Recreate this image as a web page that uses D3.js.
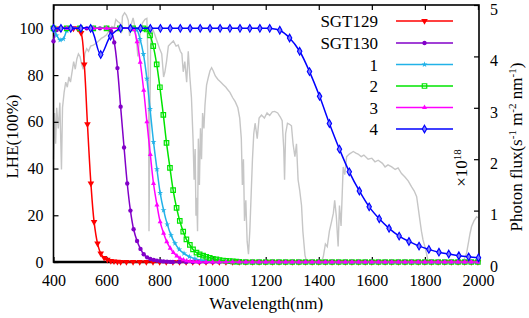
<!DOCTYPE html>
<html>
<head>
<meta charset="utf-8">
<script src="https://cdn.jsdelivr.net/npm/d3@7"></script>
<style>
  body { margin: 0; background: #fff; }
  svg { display: block; font-family: "Liberation Serif", "Times New Roman", serif; }
</style>
</head>
<body>
<svg id="chart" width="529" height="318"></svg>
<script>
// values: [wavelength nm, LHE %]
const SGT129 = [[400,100],[425,100],[450,100],[475,100],[491,100],[504,98],[516,84.6],[528,59],[541,33.6],[553,17.2],[566,8],[578,3.7],[591,1.8],[603,1.0],[616,0.5],[628,0.3],[641,0.15],[653,0.05]];
const SGT130 = [[400,94.5],[412,99.3],[425,100],[450,100],[475,100],[500,100],[525,100],[550,100],[575,100],[604,100],[617,98.8],[629,94],[641,83],[653,66.5],[666,49],[678,33.6],[690,22],[702,14],[715,9],[728,5.6],[740,3.3],[753,2],[765,1.3],[778,0.9],[790,0.6],[803,0.4],[815,0.25],[828,0.15],[840,0.08]];
const DYE1 = [[400,99.5],[412,97],[425,95],[437,95.5],[450,99],[462,100],[500,100],[550,100],[600,100],[650,100],[700,100],[714,99.3],[726,95.5],[739,89],[752,78.5],[764,65.5],[777,51.4],[790,39.7],[802,29.6],[815,22.2],[829,16.1],[843,11.5],[858,8],[874,5.4],[892,3.7],[912,2.3],[933,1.4],[955,0.8],[975,0.5],[1000,0.3],[1025,0.15],[1050,0.05]];
const DYE2 = [[400,100],[450,100],[500,100],[550,100],[600,100],[650,100],[700,100],[739,100],[751,99.5],[764,97],[776,92.4],[789,84.6],[801,74.8],[814,63],[826,51],[839,40.3],[851,30.8],[864,23.2],[876,17.6],[889,13],[901,9.7],[914,7.3],[926,5.4],[939,4],[951,3.3],[964,2.7],[976,2.2],[989,1.8],[1001,1.4],[1014,1.1],[1026,0.85],[1039,0.65],[1051,0.5],[1064,0.35],[1076,0.25],[1089,0.15],[1101,0.1]];
const DYE3 = [[400,100],[450,100],[500,100],[550,100],[600,100],[650,100],[690,100],[702,99.5],[715,94.3],[727,85.5],[740,73.5],[752,60],[765,46],[777,33.6],[790,24.4],[802,17.2],[815,12.3],[827,8.7],[840,5.9],[852,4.0],[865,2.6],[877,1.6],[890,0.9],[902,0.5],[915,0.3],[927,0.15],[940,0.05]];
const DYE4 = [[400,100],[428,100],[465,100],[503,100],[540,100],[578,88.8],[615,96.7],[653,100],[690,100],[728,100],[765,100],[803,100],[840,100],[878,100],[915,100],[953,100],[990,100],[1028,100],[1065,100],[1103,100],[1140,100],[1178,100],[1215,100],[1253,99.2],[1290,95.9],[1328,90.2],[1365,81.5],[1403,70.9],[1440,59.3],[1478,48.3],[1515,38.6],[1553,30.4],[1590,23.6],[1628,18.5],[1665,14.4],[1703,11.1],[1740,8.8],[1778,6.8],[1815,5.4],[1853,4.2],[1890,3.4],[1928,2.7],[1965,2.2],[2002,1.8]];
// wavelengths of the markers lying on the zero line
const ZERO_WL = [650,675,700,725,750,775,800,825,850,875,900,925,950,975,1000,1025,1050,1075,1100,1125,1150,1175,1200,1225,1250,1275,1300,1325,1350,1375,1400,1425,1450,1475,1500,1525,1550,1575,1600,1625,1650,1675,1700,1725,1750,1775,1800,1825,1850,1875,1900,1925,1950,1975,2000];

// solar photon flux, x10^18 s-1 m-2 nm-1 (right axis)
const SOLAR = [[400,2.0],[404,2.9],[408,2.3],[412,3.0],[418,2.6],[424,3.1],[430,1.8],[434,3.0],[440,3.3],[446,3.5],[452,3.4],[458,3.6],[464,3.5],[470,3.7],[476,3.9],[482,3.75],[488,3.95],[494,4.05],[500,4.0],[506,3.85],[512,3.75],[518,4.05],[525,4.15],[532,4.1],[540,4.2],[550,4.22],[560,4.25],[570,4.3],[580,4.35],[590,4.38],[600,4.42],[610,4.5],[620,4.58],[628,4.55],[635,4.72],[642,4.68],[650,4.65],[656,4.45],[660,4.78],[668,4.85],[675,4.8],[682,4.7],[687,4.4],[692,4.6],[700,4.75],[706,4.6],[713,4.3],[718,4.0],[722,4.2],[728,4.5],[735,4.65],[745,4.72],[752,4.74],[758,3.5],[760,0.6],[763,2.5],[766,4.2],[772,4.55],[780,4.45],[790,4.3],[800,4.15],[808,4.05],[815,3.6],[820,3.7],[826,3.9],[833,4.2],[842,4.25],[852,4.3],[862,4.2],[870,4.22],[878,4.1],[884,4.05],[889,3.7],[895,3.9],[902,3.5],[908,4.1],[914,3.6],[920,3.2],[926,2.4],[930,1.6],[934,2.2],[937,0.9],[940,1.25],[943,0.6],[946,2.4],[950,1.5],[954,2.6],[958,2.0],[962,2.9],[967,2.6],[971,3.05],[977,3.44],[984,3.6],[990,3.72],[996,3.78],[1002,3.72],[1010,3.62],[1020,3.55],[1030,3.5],[1040,3.45],[1050,3.4],[1057,3.35],[1065,3.3],[1075,3.2],[1085,3.12],[1095,3.0],[1102,2.8],[1108,2.4],[1112,1.5],[1116,2.0],[1120,0.8],[1125,1.2],[1130,0.4],[1135,0.15],[1140,0.6],[1145,1.3],[1150,2.0],[1155,2.5],[1160,2.7],[1168,2.4],[1175,2.8],[1184,2.86],[1195,2.8],[1205,2.9],[1215,2.85],[1225,2.92],[1234,2.93],[1245,2.9],[1255,2.82],[1262,2.75],[1268,2.2],[1271,1.6],[1275,2.5],[1282,2.7],[1290,2.68],[1297,2.65],[1303,2.3],[1310,2.05],[1316,2.3],[1322,1.6],[1328,1.4],[1335,1.1],[1340,0.6],[1348,0.13],[1355,0],[1410,0],[1417,0.1],[1425,0.35],[1432,0.3],[1440,0.6],[1448,0.78],[1455,0.95],[1460,1.2],[1466,0.9],[1473,0.3],[1478,1.1],[1484,0.7],[1492,1.85],[1498,1.7],[1505,2.05],[1515,2.1],[1530,2.15],[1540,2.12],[1548,2.1],[1560,2.05],[1570,2.08],[1586,2.0],[1600,2.02],[1612,1.95],[1624,1.98],[1640,1.92],[1650,1.85],[1661,1.89],[1675,1.85],[1688,1.8],[1699,1.83],[1712,1.72],[1724,1.66],[1737,1.58],[1750,1.46],[1760,1.38],[1769,1.27],[1775,1.05],[1781,0.82],[1787,0.6],[1793,0.43],[1800,0.3],[1806,0.17],[1812,0.02],[1820,0],[1945,0],[1950,0.08],[1957,0.17],[1965,0.4],[1970,0.55],[1976,0.69],[1985,0.8],[1995,0.88],[2000,0.86]];

const NAMES = ["SGT129", "SGT130", "1", "2", "3", "4"];
const COLORS = ["#ff0000", "#8200c8", "#22b2e8", "#00e400", "#ff00ff", "#0000ff"];
const X_TICKS = [400, 600, 800, 1000, 1200, 1400, 1600, 1800, 2000];
const YL_TICKS = [0, 20, 40, 60, 80, 100];
const YR_TICKS = [0, 1, 2, 3, 4, 5];

const LEFT = 53.5, RIGHT = 479, TOP = 5, BOTTOM = 262;

const svg = d3.select("#chart");
const x = d3.scaleLinear().domain([400, 2004]).range([LEFT, RIGHT]);
const yL = d3.scaleLinear().domain([0, 110]).range([BOTTOM, TOP]);
const yR = d3.scaleLinear().domain([0, 5]).range([BOTTOM, TOP]);

function withTail(data) {
  const last = data[data.length - 1][0];
  return data.concat(ZERO_WL.filter(w => w > last + 8).map(w => [w, 0]));
}

const series = [SGT129, SGT130, DYE1, DYE2, DYE3, DYE4].map((d, i) => ({
  name: NAMES[i], color: COLORS[i], data: i == 5 ? d : withTail(d)
}));

// marker for each series
function drawMarker(g, i, color) {
  if (i == 0) g.append("path").attr("d", d3.symbol(d3.symbolTriangle, 19)()).attr("transform", "rotate(180)").attr("fill", color);
  else if (i == 1) g.append("path").attr("d", d3.symbol(d3.symbolCircle, 15)()).attr("fill", color);
  else if (i == 2) g.append("path").attr("d", d3.symbol(d3.symbolStar, 11)()).attr("fill", color);
  else if (i == 3) g.append("path").attr("d", d3.symbol(d3.symbolSquare, 20)()).attr("fill", "none").attr("stroke", color).attr("stroke-width", 1.2);
  else if (i == 4) g.append("path").attr("d", d3.symbol(d3.symbolTriangle, 11)()).attr("fill", color);
  else g.append("path").attr("d", d3.symbol(d3.symbolDiamond, 17)()).attr("fill", "#7a7aff").attr("stroke", color).attr("stroke-width", 1.1);
}

// solar spectrum
svg.append("path").datum(SOLAR)
  .attr("fill", "none").attr("stroke", "#c6c6c6").attr("stroke-width", 1.4)
  .attr("d", d3.line().x(d => x(d[0])).y(d => yR(d[1])));

// frame
svg.append("rect").attr("x", LEFT).attr("y", TOP).attr("width", RIGHT - LEFT).attr("height", BOTTOM - TOP)
  .attr("fill", "none").attr("stroke", "#000").attr("stroke-width", 1.6);
svg.append("line").attr("x1", LEFT).attr("x2", RIGHT).attr("y1", BOTTOM).attr("y2", BOTTOM)
  .attr("stroke", "#000").attr("stroke-width", 2.6);

// axes
const fmt = d3.format("d");
const xb = svg.append("g").attr("transform", `translate(0,${BOTTOM})`)
  .call(d3.axisBottom(x).tickValues(X_TICKS).tickFormat(fmt).tickSizeInner(-5).tickSizeOuter(0).tickPadding(13));
const xt = svg.append("g").attr("transform", `translate(0,${TOP})`)
  .call(d3.axisTop(x).tickValues(X_TICKS).tickSizeInner(-5).tickSizeOuter(0).tickFormat(""));
const yl = svg.append("g").attr("transform", `translate(${LEFT},0)`)
  .call(d3.axisLeft(yL).tickValues(YL_TICKS).tickFormat(fmt).tickSizeInner(-5).tickSizeOuter(0).tickPadding(10));
const yr = svg.append("g").attr("transform", `translate(${RIGHT},0)`)
  .call(d3.axisRight(yR).tickValues(YR_TICKS).tickFormat(fmt).tickSizeInner(-5).tickSizeOuter(0).tickPadding(11));
for (const g of [xb, xt, yl, yr]) {
  g.attr("font-family", null).attr("font-size", 16);
  g.select(".domain").remove();
  g.selectAll(".tick line").attr("stroke-width", 1.2);
}
yr.selectAll(".tick text").attr("dy", "0.58em");

// series
const line = d3.line().x(d => x(d[0])).y(d => yL(d[1])).curve(d3.curveCatmullRom.alpha(0.5));
series.forEach((s, i) => {
  const g = svg.append("g");
  g.append("path").datum(s.data).attr("fill", "none").attr("stroke", s.color).attr("stroke-width", 1.5).attr("d", line);
  g.selectAll("g.pt").data(s.data).join("g").attr("class", "pt")
    .attr("transform", d => `translate(${x(d[0])},${yL(d[1])})`)
    .each(function () { drawMarker(d3.select(this), i, s.color); });
});

// legend
const legY = [21, 43, 64.5, 86, 107.5, 129];
series.forEach((s, i) => {
  const g = svg.append("g").attr("transform", `translate(0,${legY[i]})`);
  g.append("text").attr("x", 378).attr("y", 6).attr("text-anchor", "end").attr("font-size", 17).text(s.name);
  g.append("line").attr("x1", 396).attr("x2", 453).attr("stroke", s.color).attr("stroke-width", 1.5);
  drawMarker(g.append("g").attr("transform", "translate(424.5,0)"), i, s.color);
});

// titles
svg.append("text").attr("x", (LEFT + RIGHT) / 2).attr("y", 309).attr("text-anchor", "middle")
  .attr("font-size", 17).text("Wavelength(nm)");
svg.append("text").attr("transform", `translate(18,${(TOP + BOTTOM) / 2 + 3}) rotate(-90)`)
  .attr("text-anchor", "middle").attr("font-size", 17).text("LHE(100%)");

const rt = svg.append("text").attr("transform", "translate(522,147) rotate(-90)")
  .attr("text-anchor", "middle").attr("font-size", 17);
rt.append("tspan").text("Photon flux(s");
rt.append("tspan").attr("baseline-shift", "super").attr("font-size", 11).text("-1");
rt.append("tspan").text(" m");
rt.append("tspan").attr("baseline-shift", "super").attr("font-size", 11).text("-2");
rt.append("tspan").text(" nm");
rt.append("tspan").attr("baseline-shift", "super").attr("font-size", 11).text("-1");
rt.append("tspan").text(")");

const sc = svg.append("text").attr("transform", "translate(467,168) rotate(-90)")
  .attr("text-anchor", "middle").attr("font-size", 17);
sc.append("tspan").text("×10");
sc.append("tspan").attr("baseline-shift", "super").attr("font-size", 11).text("18");
</script>
</body>
</html>
